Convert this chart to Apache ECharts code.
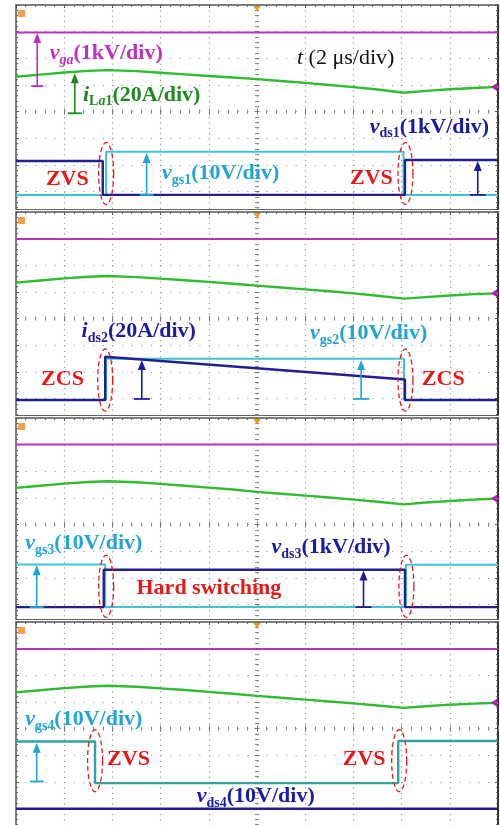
<!DOCTYPE html>
<html><head><meta charset="utf-8">
<script src="https://cdn.jsdelivr.net/npm/echarts@6/dist/echarts.min.js"></script>
<style>html,body{margin:0;padding:0;background:#fff}#c{width:500px;height:825px}</style>
</head><body><div id="c"></div>
<script>
// ---------- DATA (x: time in divisions 0..10 ; y: divisions below the top graticule line) ----------
const greenX = [0,0.5,1,1.5,1.9,2.5,3,3.5,4,4.5,5,5.5,6,6.5,7,7.5,8.05,8.5,9,9.5,10];

// Panel 1
const p1_vga  = [[0,1.03],[10,1.03]];
const p1_iLa1 = [2.69,2.61,2.53,2.47,2.44,2.48,2.54,2.60,2.66,2.72,2.78,2.85,2.92,3.00,3.08,3.17,3.29,3.22,3.16,3.11,3.07];
const p1_vgs1 = [[0,7.12],[1.87,7.12],[1.87,5.50],[8.04,5.50],[8.04,7.12],[10,7.12]];
const p1_vds1 = [[0,5.85],[1.80,5.85],[1.80,7.12],[8.07,7.12],[8.07,5.81],[10,5.81]];

// Panel 2
const p2_vga  = [[0,1.01],[10,1.01]];
const p2_iLa1 = [2.65,2.57,2.49,2.43,2.40,2.44,2.50,2.56,2.62,2.69,2.76,2.83,2.90,2.97,3.05,3.14,3.25,3.19,3.13,3.08,3.05];
const p2_vgs2 = [[0,7.05],[1.87,7.05],[1.87,5.50],[8.05,5.50],[8.05,7.05],[10,7.05]];
const p2_ids2 = [[0,7.05],[1.85,7.05],[1.85,5.43],[8.07,6.28],[8.07,7.05],[10,7.05]];

// Panel 3
const p3_vga  = [[0,0.99],[10,0.99]];
const p3_iLa1 = [2.62,2.54,2.46,2.40,2.37,2.41,2.47,2.54,2.61,2.68,2.77,2.84,2.91,2.98,3.06,3.14,3.24,3.17,3.11,3.06,3.02];
const p3_vgs3 = [[0,5.49],[1.85,5.49],[1.85,7.09],[8.09,7.09],[8.09,5.50],[10,5.50]];
const p3_vds3 = [[0,7.09],[1.82,7.09],[1.82,5.69],[8.07,5.69],[8.07,7.09],[10,7.09]];

// Panel 4
const p4_vga  = [[0,1.01],[10,1.01]];
const p4_iLa1 = [2.64,2.56,2.48,2.42,2.39,2.43,2.49,2.55,2.62,2.69,2.77,2.84,2.91,2.98,3.05,3.13,3.22,3.16,3.10,3.06,3.03];
const p4_vgs4 = [[0,4.48],[1.64,4.48],[1.64,6.04],[7.93,6.04],[7.93,4.46],[10,4.46]];
const p4_vds4 = [[0,7.00],[10,7.00]];

// ---------- LAYOUT / STYLE ----------
const PANEL_TOP = [5, 212, 418, 622];
const PANEL_H   = [204, 203, 201, 203];
const DIV_Y = 26.67, LEFT = 16, WIDTH = 482, DIV_X = WIDTH / 10;
const C = {purple:'#bb33bb', green:'#30bb30', navy:'#202090', cyan:'#40c4d2', teal:'#30a2a2',
           tPurple:'#c030c0', tGreen:'#1e8a1e', tNavy:'#1c1ca0', tCyan:'#22a4d4', red:'#e81818'};
const SERIF = '"Liberation Serif","Times New Roman",serif';

const zip = (xs, ys) => xs.map((x, i) => [x, ys[i]]);
const panels = [
  [{d:p1_vga,c:C.purple},{d:zip(greenX,p1_iLa1),c:C.green,w:2.4},{d:p1_vgs1,c:C.cyan},{d:p1_vds1,c:C.navy,w:2.4}],
  [{d:p2_vga,c:C.purple},{d:zip(greenX,p2_iLa1),c:C.green,w:2.4},{d:p2_vgs2,c:C.cyan},{d:p2_ids2,c:C.navy,w:2.4}],
  [{d:p3_vga,c:C.purple},{d:zip(greenX,p3_iLa1),c:C.green,w:2.4},{d:p3_vgs3,c:C.cyan},{d:p3_vds3,c:C.navy,w:2.4}],
  [{d:p4_vga,c:C.purple},{d:zip(greenX,p4_iLa1),c:C.green,w:2.4},{d:p4_vgs4,c:C.teal,w:2.4},{d:p4_vds4,c:C.navy,w:2.6}]
];

const grids = [], xAxes = [], yAxes = [], series = [];
const hid = {show:false};
for (let p = 0; p < 4; p++) {
  grids.push({left:LEFT, top:PANEL_TOP[p], width:WIDTH, height:PANEL_H[p], show:false});
  const ymax = PANEL_H[p] / DIV_Y;
  const xb = {gridIndex:p, type:'value', min:0, max:10, interval:1, axisLabel:hid};
  xAxes.push(Object.assign({}, xb, {position:'bottom',
    axisLine:{show:true, onZero:false, lineStyle:{color:'#666', width:1.2}}, axisTick:hid,
    splitLine:{show:true, lineStyle:{color:'#9a9a9a', width:1.2, type:[1.2, DIV_Y/5 - 1.2]}}}));
  xAxes.push(Object.assign({}, xb, {position:'top',
    axisLine:{show:true, onZero:false, lineStyle:{color:'#555', width:1.5}},
    axisTick:{show:true, inside:true, length:3, lineStyle:{color:'#555'}},
    minorTick:{show:true, splitNumber:5, length:2, lineStyle:{color:'#666'}}, splitLine:hid}));
  for (const inside of [false, true]) {
    xAxes.push(Object.assign({}, xb, {position:'top', offset:-4 * DIV_Y,
      axisLine:{show:false, onZero:false}, axisTick:{show:true, inside, length:3, lineStyle:{color:'#777'}},
      minorTick:{show:true, splitNumber:5, length:2, lineStyle:{color:'#888'}}, splitLine:hid}));
  }
  const yb = {gridIndex:p, type:'value', inverse:true, min:0, max:ymax, interval:1, axisLabel:hid};
  yAxes.push(Object.assign({}, yb, {position:'left',
    axisLine:{show:true, onZero:false, lineStyle:{color:'#555', width:1.5}},
    axisTick:{show:true, inside:true, length:3, lineStyle:{color:'#555'}},
    minorTick:{show:true, splitNumber:5, length:2, lineStyle:{color:'#666'}},
    splitLine:{show:true, lineStyle:{color:'#9a9a9a', width:1.2, type:[1.2, DIV_X/5 - 1.2]}}}));
  yAxes.push(Object.assign({}, yb, {position:'right',
    axisLine:{show:true, onZero:false, lineStyle:{color:'#333', width:2}},
    axisTick:{show:true, inside:true, length:3, lineStyle:{color:'#555'}},
    minorTick:{show:true, splitNumber:5, length:2, lineStyle:{color:'#666'}}, splitLine:hid}));
  for (const inside of [false, true]) {
    yAxes.push(Object.assign({}, yb, {position:'left', offset:-5 * DIV_X,
      axisLine:{show:false, onZero:false}, axisTick:{show:true, inside, length:2.5, lineStyle:{color:'#777'}},
      minorTick:{show:true, splitNumber:5, length:2, lineStyle:{color:'#888'}}, splitLine:hid}));
  }
  panels[p].forEach((s, k) => series.push({
    type:'line', xAxisIndex:p * 4, yAxisIndex:p * 4, data:s.d, showSymbol:false, symbol:'none',
    animation:false, silent:true, z:2 + k, lineStyle:{color:s.c, width:s.w || 2}
  }));
}

const chart = echarts.init(document.getElementById('c'), null, {renderer:'canvas'});
chart.setOption({animation:false, grid:grids, xAxis:xAxes, yAxis:yAxes, series:series});

// ---------- ANNOTATIONS (positions in panel data units) ----------
const texts = [
  {p:0, x:0.70, y:1.80, c:C.tPurple, t:'{vi|v}{si|ga}{n|(1kV/div)}'},
  {p:0, x:1.39, y:3.37, c:C.tGreen,  t:'{vi|i}{s|L}{si|a}{s|1}{n|(20A/div)}'},
  {p:0, x:5.83, y:1.99, c:'#111',    t:'{ri|t}{r| (2 μs/div)}'},
  {p:0, x:7.34, y:4.57, c:C.tNavy,   t:'{vi|v}{s|ds1}{n|(1kV/div)}'},
  {p:0, x:0.62, y:6.52, c:C.red,     t:'{n|ZVS}'},
  {p:0, x:3.03, y:6.30, c:C.tCyan,   t:'{vi|v}{s|gs1}{n|(10V/div)}'},
  {p:0, x:6.93, y:6.49, c:C.red,     t:'{n|ZVS}'},
  {p:1, x:1.36, y:4.49, c:C.tNavy,   t:'{vi|i}{s|ds2}{n|(20A/div)}'},
  {p:1, x:0.52, y:6.26, c:C.red,     t:'{n|ZCS}'},
  {p:1, x:6.10, y:4.55, c:C.tCyan,   t:'{vi|v}{s|gs2}{n|(10V/div)}'},
  {p:1, x:8.42, y:6.26, c:C.red,     t:'{n|ZCS}'},
  {p:2, x:0.19, y:4.71, c:C.tCyan,   t:'{vi|v}{s|gs3}{n|(10V/div)}'},
  {p:2, x:2.50, y:6.40, c:C.red,     t:'{n|Hard switching}'},
  {p:2, x:5.30, y:4.84, c:C.tNavy,   t:'{vi|v}{s|ds3}{n|(1kV/div)}'},
  {p:3, x:0.19, y:3.66, c:C.tCyan,   t:'{vi|v}{s|gs4}{n|(10V/div)}'},
  {p:3, x:1.89, y:5.16, c:C.red,     t:'{n|ZVS}'},
  {p:3, x:6.78, y:5.16, c:C.red,     t:'{n|ZVS}'},
  {p:3, x:3.75, y:6.54, c:C.tNavy,   t:'{vi|v}{s|ds4}{n|(10V/div)}'}
];
const arrows = [
  {p:0, x:0.44, base:3.04, tip:1.05, c:C.tPurple, half:6},
  {p:0, x:1.22, base:4.06, tip:2.56, c:C.tGreen, half:7},
  {p:0, x:9.58, base:7.12, tip:5.85, c:C.tNavy, half:8},
  {p:0, x:2.71, base:7.12, tip:5.55, c:C.tCyan, half:7},
  {p:1, x:2.61, base:7.01, tip:5.55, c:C.tNavy, half:8},
  {p:1, x:7.16, base:7.01, tip:5.55, c:C.tCyan, half:8},
  {p:2, x:0.43, base:7.09, tip:5.52, c:C.tCyan, half:7},
  {p:2, x:7.21, base:7.09, tip:5.72, c:C.tNavy, half:8},
  {p:3, x:0.43, base:5.98, tip:4.53, c:C.tCyan, half:7}
];
const ellipses = [
  {p:0, x:1.87, y:6.32}, {p:0, x:8.08, y:6.32},
  {p:1, x:1.85, y:6.30}, {p:1, x:8.08, y:6.30},
  {p:2, x:1.87, y:6.31}, {p:2, x:8.10, y:6.31},
  {p:3, x:1.64, y:5.20}, {p:3, x:7.95, y:5.20}
];
const chanEnd = [p1_iLa1, p2_iLa1, p3_iLa1, p4_iLa1];

const px = (p, x, y) => chart.convertToPixel({xAxisIndex:p * 4, yAxisIndex:p * 4}, [x, y]);
const rich = {
  vi:{fontFamily:SERIF, fontSize:22, fontWeight:'bold', fontStyle:'italic', lineHeight:28, verticalAlign:'middle'},
  n: {fontFamily:SERIF, fontSize:22, fontWeight:'bold', lineHeight:28, verticalAlign:'middle'},
  s: {fontFamily:SERIF, fontSize:14, fontWeight:'bold', lineHeight:14, verticalAlign:'bottom'},
  si:{fontFamily:SERIF, fontSize:14, fontWeight:'bold', fontStyle:'italic', lineHeight:14, verticalAlign:'bottom'},
  r: {fontFamily:SERIF, fontSize:22, lineHeight:28, verticalAlign:'middle'},
  ri:{fontFamily:SERIF, fontSize:22, fontStyle:'italic', lineHeight:28, verticalAlign:'middle'}
};
const g = [];
texts.forEach(o => {
  const [X, Y] = px(o.p, o.x, o.y);
  g.push({type:'text', x:X, y:Y, z:100, silent:true,
    style:{text:o.t, rich:rich, fill:o.c, align:'left', verticalAlign:'middle'}});
});
arrows.forEach(o => {
  const [X, B] = px(o.p, o.x, o.base);
  const T = px(o.p, o.x, o.tip)[1];
  g.push({type:'line', z:100, silent:true, shape:{x1:X, y1:B, x2:X, y2:T + 8}, style:{stroke:o.c, lineWidth:1.6}});
  g.push({type:'line', z:100, silent:true, shape:{x1:X - o.half, y1:B, x2:X + o.half, y2:B}, style:{stroke:o.c, lineWidth:1.8}});
  g.push({type:'polygon', z:100, silent:true, shape:{points:[[X, T], [X - 4, T + 10], [X + 4, T + 10]]}, style:{fill:o.c}});
});
ellipses.forEach(o => {
  const [X, Y] = px(o.p, o.x, o.y);
  const pts = [];
  for (let i = 0; i < 72; i++) { const a = i / 72 * 2 * Math.PI; pts.push([X + 7.5 * Math.cos(a), Y + 31 * Math.sin(a)]); }
  g.push({type:'polygon', z:101, silent:true, shape:{points:pts},
    style:{fill:'none', stroke:C.red, lineWidth:1.3, lineDash:[5, 3]}});
});
for (let p = 0; p < 4; p++) {
  const top = PANEL_TOP[p];
  g.push({type:'rect', z:99, silent:true, shape:{x:LEFT + 2, y:top + 5, width:7, height:7}, style:{fill:'#f0a050'}});
  const cx = px(p, 5, 0)[0];
  g.push({type:'polygon', z:99, silent:true, shape:{points:[[cx - 4, top + 1], [cx + 4, top + 1], [cx, top + 6]]}, style:{fill:'#f0a020'}});
  const ry = px(p, 10, chanEnd[p][chanEnd[p].length - 1])[1];
  const rx = LEFT + WIDTH - 1;
  g.push({type:'polygon', z:99, silent:true, shape:{points:[[rx, ry - 4], [rx, ry + 4], [rx - 6, ry]]}, style:{fill:'#b020b0'}});
}
chart.setOption({graphic:{elements:g}});
</script>
</body></html>
